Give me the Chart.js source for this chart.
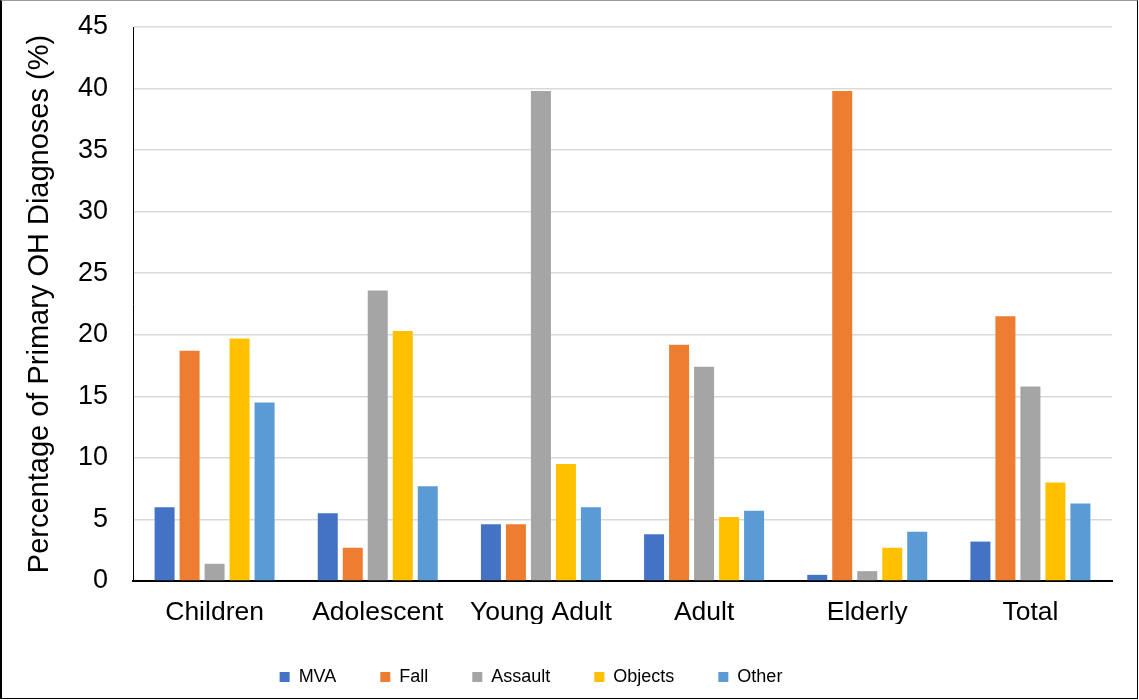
<!DOCTYPE html>
<html>
<head>
<meta charset="utf-8">
<script src="https://cdn.jsdelivr.net/npm/chart.js@4"></script>
<style>
  html, body { margin: 0; padding: 0; background: #fff; }
  #wrap { position: relative; width: 1139px; height: 700px; }
  #frame {
    position: absolute; left: 0; top: 0; width: 1138px; height: 699px;
    box-sizing: border-box; pointer-events: none;
    border-left: 2px solid #000; border-right: 1px solid #000;
    border-bottom: 1px solid #000; border-top: 1px solid #999;
  }
  canvas { display: block; }
</style>
</head>
<body>
<div id="wrap">
  <canvas id="c" width="1139" height="700"></canvas>
  <div id="frame"></div>
</div>
<script>
// Age groups along the x axis
const categories = ['Children', 'Adolescent', 'Young Adult', 'Adult', 'Elderly', 'Total'];

// Share of primary OH diagnoses (%) by mechanism of injury
const mva     = [6.0, 5.5, 4.6, 3.8, 0.5, 3.2];
const fall    = [18.7, 2.7, 4.6, 19.2, 39.8, 21.5];
const assault = [1.4, 23.6, 39.8, 17.4, 0.8, 15.8];
const objects = [19.7, 20.3, 9.5, 5.2, 2.7, 8.0];
const other   = [14.5, 7.7, 6.0, 5.7, 4.0, 6.3];

const seriesNames = ['MVA', 'Fall', 'Assault', 'Objects', 'Other'];
const seriesColors = ['#4472C4', '#ED7D31', '#A5A5A5', '#FFC000', '#5B9BD5'];
const seriesValues = [mva, fall, assault, objects, other];

const FONT = '"Liberation Sans", Arial, Helvetica, sans-serif';
const LEGEND_CENTER_X = 531;

// Keep the legend block centred under the left part of the figure
const legendShift = {
  id: 'legendShift',
  afterLayout(chart) {
    const lg = chart.legend;
    if (lg) { lg.right = 2 * LEGEND_CENTER_X - lg.left; }
  }
};

new Chart(document.getElementById('c'), {
  type: 'bar',
  data: {
    labels: categories,
    datasets: seriesNames.map((name, i) => ({
      label: name,
      data: seriesValues[i],
      backgroundColor: seriesColors[i],
      borderWidth: 0,
      barPercentage: 0.8,
      categoryPercentage: 0.766
    }))
  },
  options: {
    responsive: false,
    animation: false,
    devicePixelRatio: 1,
    layout: { padding: { left: 2, right: 27, top: 27, bottom: 4 } },
    plugins: {
      tooltip: { enabled: false },
      legend: {
        position: 'bottom',
        labels: {
          boxWidth: 10,
          boxHeight: 10,
          padding: 44,
          color: '#000',
          font: { family: FONT, size: 18 }
        }
      }
    },
    scales: {
      x: {
        grid: { display: false, drawTicks: false },
        border: { display: true, color: '#000', width: 2 },
        ticks: { color: '#000', padding: 16, font: { family: FONT, size: 26.5 } },
        afterFit(scale) { scale.height = 43; }
      },
      y: {
        min: 0,
        max: 45,
        ticks: { stepSize: 5, color: '#000', padding: 25, font: { family: FONT, size: 27 } },
        grid: { color: '#d9d9d9', lineWidth: 1.5, drawTicks: false },
        border: { display: true, color: '#000', width: 1 },
        title: {
          display: true,
          text: 'Percentage of Primary OH Diagnoses (%)',
          color: '#000',
          font: { family: FONT, size: 29 },
          padding: { top: 21, bottom: 0 }
        },
        afterFit(scale) {
          scale.width = 131;
          scale.paddingTop = 0;
          scale.paddingBottom = 0;
        }
      }
    }
  },
  plugins: [legendShift]
});
</script>
</body>
</html>
